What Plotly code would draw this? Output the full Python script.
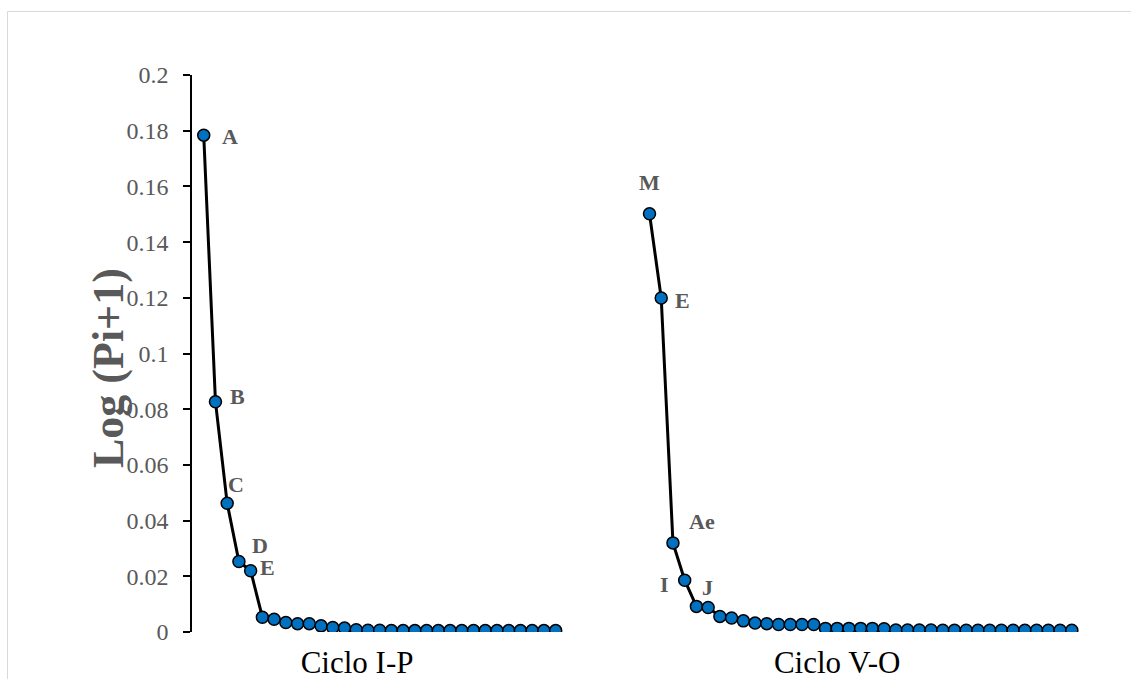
import plotly.graph_objects as go

# ---- data ----
group_labels = ["Ciclo I-P", "Ciclo V-O"]

left_values = [0.1784, 0.0827, 0.0462, 0.0253, 0.0220, 0.0053, 0.0046, 0.0034,
               0.0030, 0.0030, 0.0022, 0.0016, 0.0014, 0.0008,
               0.0006, 0.0006, 0.0005, 0.0005, 0.0005, 0.0005, 0.0005, 0.0005,
               0.0005, 0.0005, 0.0005, 0.0005, 0.0005, 0.0005, 0.0005, 0.0005, 0.0005]
left_labels = ["A", "B", "C", "D", "E"]

right_values = [0.1502, 0.1199, 0.0320, 0.0186, 0.0092, 0.0088, 0.0056, 0.0050,
                0.0040, 0.0032, 0.0030, 0.0027, 0.0027, 0.0027, 0.0027,
                0.0013, 0.0013, 0.0013, 0.0013, 0.0013, 0.0012,
                0.0007, 0.0007, 0.0007, 0.0007, 0.0006, 0.0006, 0.0006, 0.0006,
                0.0006, 0.0006, 0.0006, 0.0006, 0.0006, 0.0006, 0.0006, 0.0006]
right_labels = ["M", "E", "Ae", "I", "J"]

y_ticks = [0, 0.02, 0.04, 0.06, 0.08, 0.1, 0.12, 0.14, 0.16, 0.18, 0.2]

# ---- positions (category slots) ----
left_x = list(range(1, len(left_values) + 1))
right_start = 39
right_x = list(range(right_start, right_start + len(right_values)))
group_centers = [14.07, 55.0]

# label offsets (style): (xshift, yshift, xanchor)
left_off = [(16, -1, "left"), (13, 5, "left"), (-1, 19, "left"), (11, 16, "left"), (7, 3, "left")]
right_off = [(0, 31, "center"), (12, -2, "left"), (14, 21, "left"), (-14, -4, "right"), (4, 19, "left")]

SERIF = "Liberation Serif"
GRAY = "#595959"

fig = go.Figure()
for xs, ys in ((left_x, left_values), (right_x, right_values)):
    fig.add_trace(go.Scatter(
        x=xs, y=ys, mode="lines+markers",
        line=dict(color="black", width=3),
        marker=dict(size=12, color="#0070C0", line=dict(color="black", width=1.5)),
        showlegend=False, hoverinfo="skip"))

annotations = []
for xs, ys, labs, offs in ((left_x, left_values, left_labels, left_off),
                           (right_x, right_values, right_labels, right_off)):
    for i, lab in enumerate(labs):
        dx, dy, anc = offs[i]
        annotations.append(dict(
            x=xs[i], y=ys[i], xref="x", yref="y", text="<b>%s</b>" % lab,
            showarrow=False, xshift=dx, yshift=dy, xanchor=anc, yanchor="middle",
            font=dict(family=SERIF, size=22, color=GRAY)))

W, H = 1131, 679
ml, mr, mt, mb = 192, 24, 75, 47
pw, ph = W - ml - mr, H - mt - mb

def px(xp):
    return (xp - ml) / pw

def py(yp):
    return (H - mb - yp) / ph

annotations.append(dict(
    x=px(108), y=py(368), xref="paper", yref="paper", text="<b>Log (Pi+1)</b>",
    textangle=-90, showarrow=False, xanchor="center", yanchor="middle",
    font=dict(family=SERIF, size=44, color=GRAY)))

shapes = [
    dict(type="line", xref="paper", yref="paper", x0=px(7.5), x1=px(1140), y0=py(11.5), y1=py(11.5),
         line=dict(color="#d9d9d9", width=1)),
    dict(type="line", xref="paper", yref="paper", x0=px(7.5), x1=px(7.5), y0=py(11.5), y1=py(700),
         line=dict(color="#d9d9d9", width=1)),
]

fig.update_layout(
    width=W, height=H,
    margin=dict(l=ml, r=mr, t=mt, b=mb, pad=0, autoexpand=False),
    paper_bgcolor="white", plot_bgcolor="white",
    annotations=annotations, shapes=shapes,
    xaxis=dict(range=[0, 78], showgrid=False, zeroline=False, showline=False,
               automargin=False,
               tickvals=group_centers, ticktext=group_labels, ticks="",
               ticklabelstandoff=9,
               tickfont=dict(family=SERIF, size=31, color="black")),
    yaxis=dict(range=[0, 0.2], tickvals=y_ticks, showgrid=False, zeroline=False,
               automargin=False,
               showline=True, linecolor="black", linewidth=1.5,
               ticks="outside", ticklen=7, tickwidth=1.5, tickcolor="black",
               ticklabelstandoff=10,
               tickfont=dict(family=SERIF, size=24, color=GRAY)),
)

fig.write_html("out.html",
               config={"displayModeBar": False},
               post_script="document.body.style.margin='0px';"
                           "document.body.style.overflow='hidden';")
